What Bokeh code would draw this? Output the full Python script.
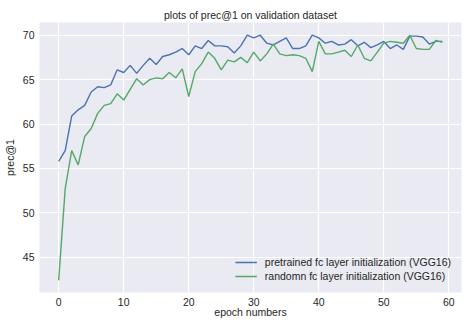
from bokeh.plotting import figure
from bokeh.models import FixedTicker, Range1d, Legend, LegendItem
from bokeh.embed import file_html
from bokeh.resources import INLINE

epochs = list(range(60))
pretrained = [55.8, 57.0, 60.9, 61.6, 62.1, 63.6, 64.2, 64.1, 64.4, 66.1,
              65.8, 66.6, 65.7, 66.6, 67.4, 66.7, 67.6, 67.8, 68.1, 68.5,
              67.8, 68.8, 68.5, 69.4, 68.8, 68.8, 68.7, 68.0, 68.8, 70.0,
              69.7, 70.0, 69.1, 68.9, 69.3, 69.7, 68.5, 68.5, 68.8, 70.0,
              69.7, 69.1, 69.3, 68.9, 69.0, 69.5, 68.8, 69.2, 68.6, 68.9,
              69.3, 68.5, 68.9, 68.4, 69.9, 69.9, 69.8, 69.0, 69.3, 69.3]
randomn = [42.4, 52.7, 57.0, 55.4, 58.6, 59.5, 61.2, 62.1, 62.3, 63.4,
           62.7, 63.9, 65.1, 64.4, 65.0, 65.2, 65.1, 65.8, 65.2, 66.2,
           63.1, 65.9, 66.8, 68.1, 67.4, 66.1, 67.2, 67.0, 67.5, 66.9,
           68.1, 67.1, 67.9, 69.0, 67.9, 67.7, 67.8, 67.7, 67.4, 65.9,
           69.3, 67.9, 67.9, 68.1, 68.3, 67.6, 68.9, 67.4, 67.1, 68.1,
           69.1, 69.3, 69.2, 69.1, 70.0, 68.5, 68.4, 68.4, 69.4, 69.2]
x_ticks = [0, 10, 20, 30, 40, 50, 60]
y_ticks = [45, 50, 55, 60, 65, 70]
title = "plots of prec@1 on validation dataset"
x_label = "epoch numbers"
y_label = "prec@1"
labels = ["pretrained fc layer initialization (VGG16)",
          "randomn fc layer initialization (VGG16)"]

FONT = "Liberation Sans"
TXT = "#262626"

p = figure(frame_width=422, frame_height=270, output_backend="svg",
           toolbar_location=None,
           x_range=Range1d(-2.95, 61.95), y_range=Range1d(41.03, 71.43),
           min_border_left=32, min_border_right=3, min_border_top=22,
           min_border_bottom=10)
p.title.text = title
p.title.align = "center"
p.title.text_font = FONT
p.title.text_font_size = "10.5px"
p.title.text_font_style = "normal"
p.title.text_color = TXT
p.title.standoff = 3
p.title.offset = 0

p.background_fill_color = "#EAEAF2"
p.border_fill_color = "white"
p.outline_line_color = None

for ax in (p.xaxis[0], p.yaxis[0]):
    ax.axis_line_color = None
    ax.major_tick_line_color = None
    ax.minor_tick_line_color = None
    ax.major_tick_out = 0
    ax.major_tick_in = 0
    ax.minor_tick_out = 0
    ax.minor_tick_in = 0
    ax.major_label_text_font = FONT
    ax.major_label_text_font_size = "10.5px"
    ax.major_label_text_color = TXT
    ax.axis_label_text_font = FONT
    ax.axis_label_text_font_size = "10.5px"
    ax.axis_label_text_font_style = "normal"
    ax.axis_label_text_color = TXT
    ax.major_label_standoff = 5

p.xaxis[0].axis_label_standoff = -3
p.yaxis[0].axis_label_standoff = 4

p.xaxis.ticker = FixedTicker(ticks=x_ticks)
p.yaxis.ticker = FixedTicker(ticks=y_ticks)
p.xaxis.axis_label = x_label
p.yaxis.axis_label = y_label

p.xgrid.ticker = FixedTicker(ticks=x_ticks)
p.ygrid.ticker = FixedTicker(ticks=y_ticks)
for g in (p.xgrid[0], p.ygrid[0]):
    g.grid_line_color = "white"
    g.grid_line_width = 1.2

r1 = p.line(epochs, pretrained, line_color="#4C72B0", line_width=1.4)
r2 = p.line(epochs, randomn, line_color="#55A868", line_width=1.4)

legend = Legend(items=[LegendItem(label=labels[0], renderers=[r1]),
                       LegendItem(label=labels[1], renderers=[r2])],
                location="bottom_right")
legend.background_fill_alpha = 0
legend.border_line_color = None
legend.label_text_font = FONT
legend.label_text_font_size = "10.5px"
legend.label_text_color = TXT
legend.glyph_width = 22
legend.glyph_height = 12
legend.label_height = 12
legend.label_standoff = 8
legend.spacing = 2
legend.padding = 6
legend.margin = 10
p.add_layout(legend)

open("out.html", "w").write(file_html(p, INLINE))
